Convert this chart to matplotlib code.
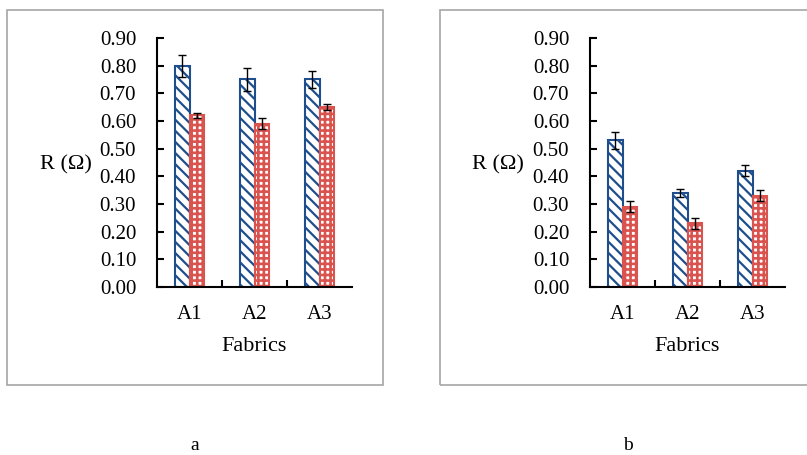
import numpy as np
import matplotlib.pyplot as plt
from matplotlib.patches import Rectangle

plt.rcParams['font.family'] = ['Liberation Serif', 'DejaVu Serif']

fabrics = ["A1", "A2", "A3"]
# panel a
a_blue = [0.80, 0.75, 0.75]
a_blue_err = [0.04, 0.04, 0.03]
a_red = [0.62, 0.59, 0.65]
a_red_err = [0.01, 0.02, 0.01]
# panel b
b_blue = [0.53, 0.34, 0.42]
b_blue_err = [0.03, 0.015, 0.02]
b_red = [0.29, 0.23, 0.33]
b_red_err = [0.02, 0.02, 0.02]

W, H = 807, 455
fig = plt.figure(figsize=(W / 100, H / 100), dpi=100)

# grey frames around each panel (pixel coords)
for x0, x1 in [(7, 383), (440, 812)]:
    fig.patches.append(Rectangle((x0 / W, 1 - 385 / H), (x1 - x0) / W, 375 / H,
                                 transform=fig.transFigure, fill=False,
                                 edgecolor="#a6a6a6", linewidth=1.2))

blue = "#1f4e8c"
red = "#d9534f"
ekw = dict(ecolor="black", elinewidth=1, capthick=1)


def panel(left_px, right_px, blue_vals, blue_err, red_vals, red_err, ylab_x, letter, letter_x):
    ax = fig.add_axes([left_px / W, 1 - 287 / H, (right_px - left_px) / W, (287 - 38) / H])
    x = np.arange(len(fabrics))
    w = 0.23
    with plt.rc_context({"hatch.linewidth": 1.6}):
        bb = ax.bar(x - w / 2, blue_vals, w, color="white", edgecolor=blue, hatch="\\\\\\",
                    linewidth=1.5, yerr=blue_err, capsize=3, error_kw=ekw)
    with plt.rc_context({"hatch.linewidth": 1.9}):
        rb = ax.bar(x + w / 2, red_vals, w, color="white", edgecolor=red, hatch="+++",
                    linewidth=1.5, yerr=red_err, capsize=3, error_kw=ekw)
    for p in bb:
        if hasattr(p, "set_hatch_linewidth"):
            p.set_hatch_linewidth(1.6)
    for p in rb:
        if hasattr(p, "set_hatch_linewidth"):
            p.set_hatch_linewidth(1.9)
    ax.set_xlim(-0.5, 2.5)
    ax.set_ylim(0, 0.9)
    ax.set_yticks(np.arange(0, 0.91, 0.1))
    ax.set_yticklabels([f"{v:.2f}" for v in np.arange(0, 0.91, 0.1)])
    ax.set_xticks(x)
    ax.set_xticklabels(fabrics)
    ax.set_xticks([0.5, 1.5], minor=True)
    ax.tick_params(axis="x", which="major", length=0, labelsize=15, pad=13)
    ax.tick_params(axis="x", which="minor", direction="in", length=5, width=1.5)
    ax.tick_params(axis="y", direction="in", length=5, width=1.5, labelsize=15, pad=15)
    for s in ["top", "right"]:
        ax.spines[s].set_visible(False)
    for s in ["left", "bottom"]:
        ax.spines[s].set_linewidth(1.5)
    ax.set_xlabel("Fabrics", fontsize=16, labelpad=9)
    fig.text(ylab_x / W, 1 - 165 / H, "R (Ω)", fontsize=16, ha="center", va="center")
    fig.text(letter_x / W, 1 - 446 / H, letter, fontsize=14, ha="center", va="center")
    return ax


panel(157, 352, a_blue, a_blue_err, a_red, a_red_err, 66, "a", 195)
panel(590, 785, b_blue, b_blue_err, b_red, b_red_err, 498, "b", 628)

fig.savefig("out.png", dpi=100)
